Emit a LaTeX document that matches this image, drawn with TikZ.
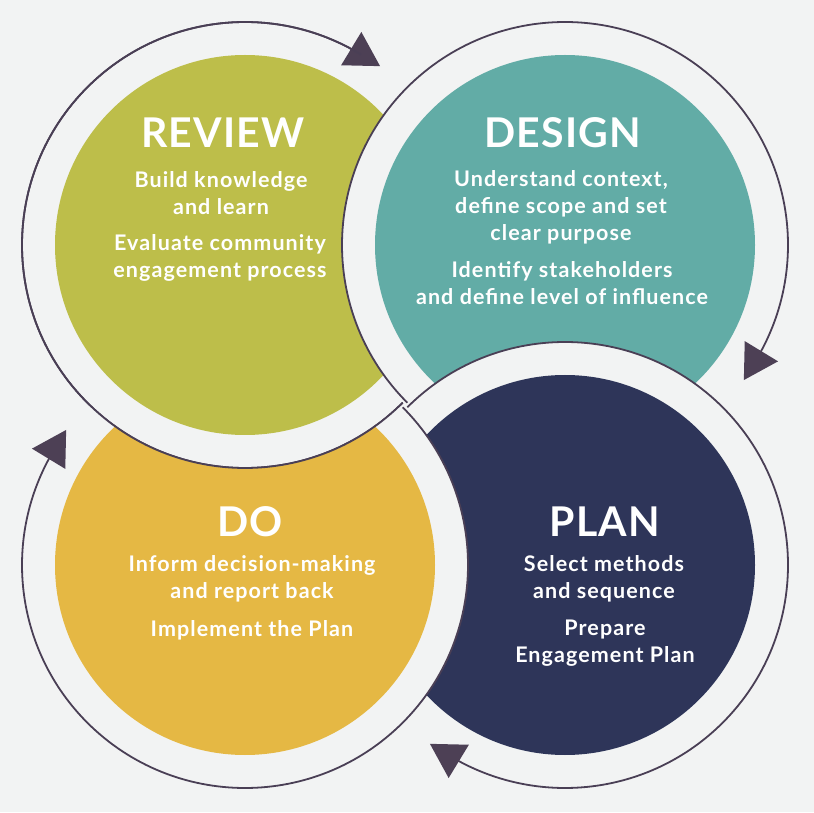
\documentclass[tikz,border=0pt]{standalone}
\usepackage{fontspec}
\setmainfont{Lato}
\usetikzlibrary{calc}
\definecolor{cBg}{RGB}{242,243,243}
\definecolor{cReview}{RGB}{189,190,74}
\definecolor{cDesign}{RGB}{98,172,166}
\definecolor{cPlan}{RGB}{46,53,89}
\definecolor{cDo}{RGB}{229,184,68}
\definecolor{cLine}{RGB}{74,63,85}
\definecolor{cTip}{RGB}{77,64,85}
\newcommand\discpart[2]{\fill[cBg] (#1) circle (223); \fill[#2] (#1) circle (190);}
\newcommand\linepart[3]{\draw[ringline] (#1) ++(#2:223) arc[start angle=#2,end angle=#3,radius=223];}
\newcommand\arrowpart[3]{%
  \coordinate (#3) at ($(#1)+(#2:223)$);
  \fill[tipfill] ($(#3)+({#2-90}:22.5)$) -- ($(#3)+({#2+30}:22.5)$) -- ($(#3)+({#2+150}:22.5)$) -- cycle;}
\begin{document}
\begin{tikzpicture}[x=1pt,y=1pt,
  ringline/.style={draw=cLine,line width=1.8pt},
  tipfill/.style={fill=cTip},
  ttl/.style={text=white,font=\fontsize{41}{44}\selectfont\bfseries\addfontfeatures{LetterSpace=3},inner sep=0pt},
  body/.style={text=white,font=\fontsize{21.5}{27}\selectfont\bfseries\addfontfeatures{LetterSpace=5},align=center,inner sep=0pt}]
\fill[cBg] (0,0) rectangle (814,812);
\useasboundingbox (0,0) rectangle (814,812);
\coordinate (R) at (245,567);
\coordinate (D) at (565,567);
\coordinate (P) at (565,247);
\coordinate (O) at (245,247);
% REVIEW
\discpart{R}{cReview}
\linepart{R}{-45}{-301.3}
\arrowpart{R}{58.7}{ra}
% DESIGN
\discpart{D}{cDesign}
\linepart{D}{225}{-31.3}
\arrowpart{D}{-31.3}{da}
% PLAN
\discpart{P}{cPlan}
\linepart{P}{135}{-121.3}
\arrowpart{P}{-121.3}{pa}
% DO, kept under REVIEW
\begin{scope}
\clip (0,0) -- (0,812) -- (814,812) -- (814,0) -- cycle
      (R) ++(223,0) arc[start angle=0,end angle=360,radius=223] -- cycle;
\discpart{O}{cDo}
\linepart{O}{45}{-211.3}
\end{scope}
\arrowpart{O}{148.7}{oa}
% REVIEW line over DO
\linepart{R}{-45}{-301.3}
% texts
\node[ttl] (rt) at (223,679) {REVIEW};
\node[body] (rb1) at (221,618.5) {Build knowledge\\and learn};
\node[body] (rb2) at (220,554.5) {Evaluate community\\engagement process};
\node[ttl] (dt) at (563,679) {DESIGN};
\node[body] (db1) at (561,605) {Understand context,\\define scope and set\\clear purpose};
\node[body] (db2) at (562,528.5) {Identify stakeholders\\and define level of influence};
\node[ttl] (ot) at (250,290) {DO};
\node[body] (ob1) at (252,233.5) {Inform decision-making\\and report back};
\node[body] (ob2) at (252,182) {Implement the Plan};
\node[ttl] (pt) at (605,290) {PLAN};
\node[body] (pb1) at (604,233.5) {Select methods\\and sequence};
\node[body] (pb2) at (605,168.5) {Prepare\\Engagement Plan};
\end{tikzpicture}
\end{document}
